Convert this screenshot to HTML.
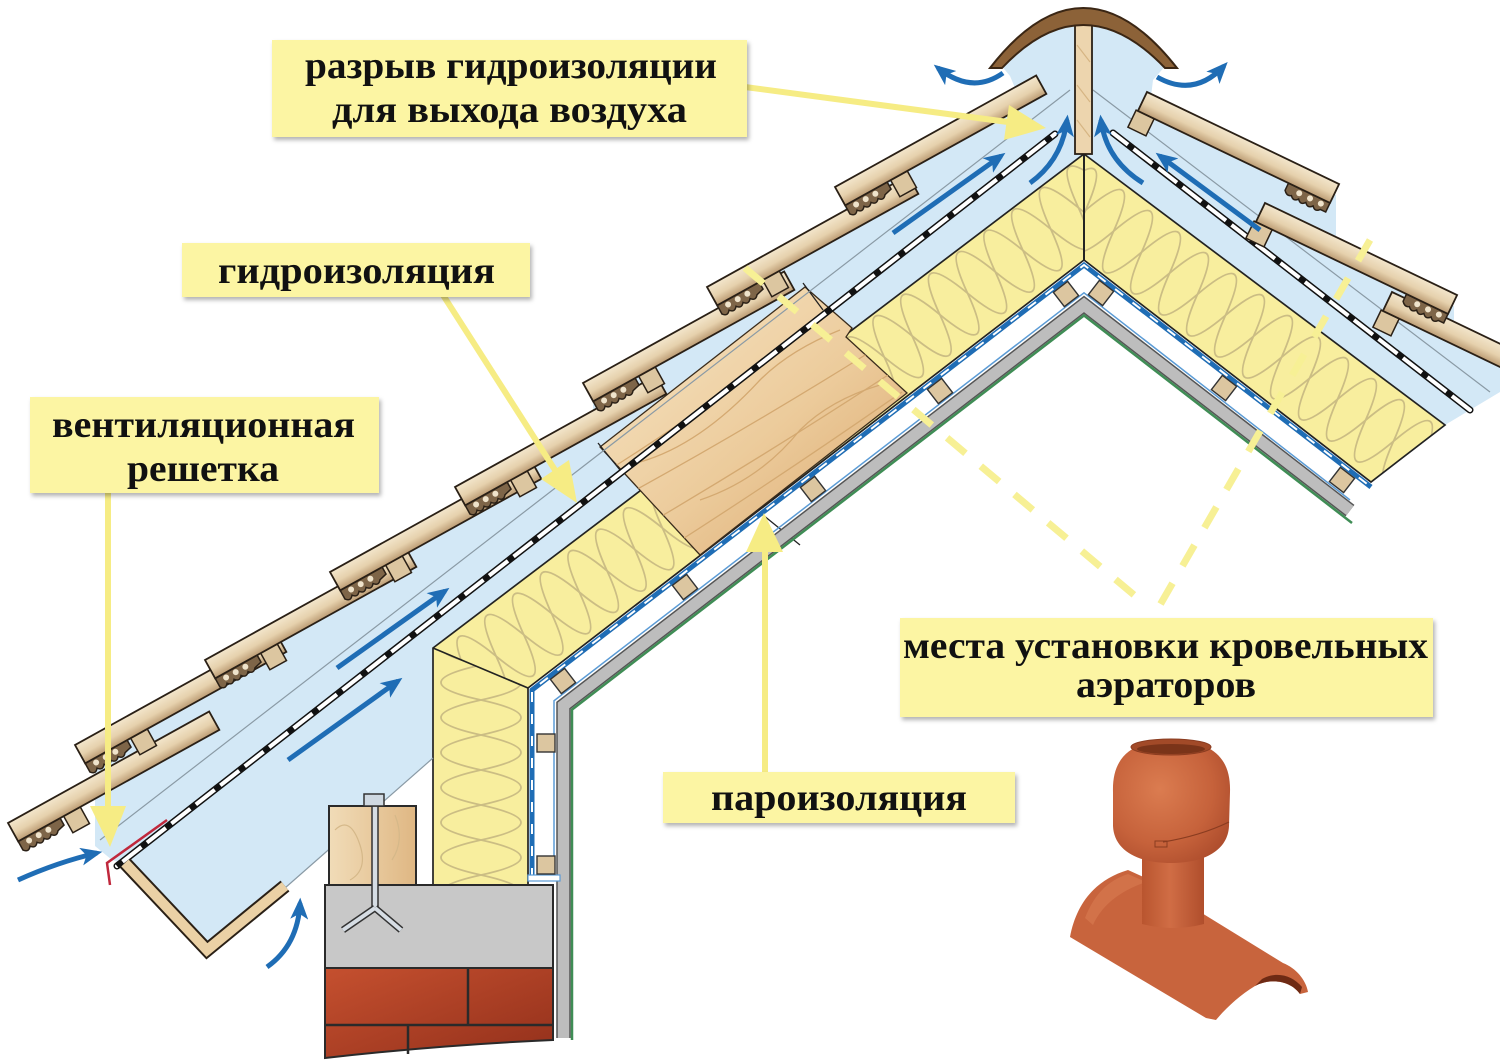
<!DOCTYPE html>
<html><head><meta charset="utf-8">
<style>html,body{margin:0;padding:0;background:#fff;}svg{display:block;}</style>
</head><body>
<svg width="1500" height="1061" viewBox="0 0 1500 1061" xmlns="http://www.w3.org/2000/svg">
<defs>
 <linearGradient id="gb" x1="0" y1="0" x2="0" y2="1">
  <stop offset="0" stop-color="#f3e6cc"/><stop offset="0.55" stop-color="#e6d1ad"/><stop offset="1" stop-color="#bc9c74"/>
 </linearGradient>
 <linearGradient id="wood" x1="0" y1="0" x2="1" y2="1">
  <stop offset="0" stop-color="#f8e7c8"/><stop offset="0.55" stop-color="#eccb9b"/><stop offset="1" stop-color="#d9a56b"/>
 </linearGradient>
 <linearGradient id="wood2" x1="0" y1="0" x2="1" y2="0">
  <stop offset="0" stop-color="#f1dcb8"/><stop offset="1" stop-color="#dfb783"/>
 </linearGradient>
 <linearGradient id="brick" x1="0" y1="0" x2="1" y2="1">
  <stop offset="0" stop-color="#c5502f"/><stop offset="1" stop-color="#93301b"/>
 </linearGradient>
 <radialGradient id="terra" cx="0.4" cy="0.4" r="0.75">
  <stop offset="0" stop-color="#db7c50"/><stop offset="0.6" stop-color="#c6623b"/><stop offset="1" stop-color="#a9492a"/>
 </radialGradient>
 <linearGradient id="neck" x1="0" y1="0" x2="1" y2="0">
  <stop offset="0" stop-color="#b9552f"/><stop offset="0.45" stop-color="#d06d45"/><stop offset="1" stop-color="#b04e2c"/>
 </linearGradient>
 <marker id="bh" viewBox="0 0 12 10" refX="9" refY="5" markerWidth="4.4" markerHeight="3.6" orient="auto" markerUnits="strokeWidth">
  <path d="M0,0 L12,5 L0,10 L3,5 Z" fill="#1f6db5"/>
 </marker>
 <filter id="sh" x="-5%" y="-10%" width="115%" height="140%">
  <feDropShadow dx="2" dy="3" stdDeviation="2" flood-color="#000" flood-opacity="0.3"/>
 </filter>
 <clipPath id="cL"><polygon points="433,648 1084,154 1084,260 528,688"/></clipPath>
 <clipPath id="cW"><polygon points="433,648 528,688 528,885 433,885"/></clipPath>
 <clipPath id="cR"><polygon points="1084,154 1445,425 1371,482 1084,260"/></clipPath>
 <clipPath id="cWood"><polygon points="600,447 805,287 852,328 846,337 907,393 700,555"/></clipPath>
 <g id="tl">
  <rect x="52" y="21" width="19" height="19" fill="#dcc6a0" stroke="#2a2016" stroke-width="1.5"/>
  <path d="M0,21 L0,31 Q4,36 8,31 Q12,36 16,31 Q20,36 24,31 Q28,36 32,31 Q36,36 40,31 L48,29 L48,21 Z" fill="#7e6548" stroke="#2a2016" stroke-width="1.5"/>
  <circle cx="10" cy="25.5" r="3" fill="#efe3cb"/><circle cx="21" cy="25.5" r="3" fill="#efe3cb"/><circle cx="32" cy="25.5" r="3" fill="#efe3cb"/>
  <rect x="0" y="0" width="230" height="21" fill="url(#gb)" stroke="#2a2016" stroke-width="1.8"/>
 </g>
 <g id="tr">
  <rect x="-2" y="21" width="20" height="19" fill="#dcc6a0" stroke="#2a2016" stroke-width="1.5"/>
  <path d="M167,21 L167,29 Q171,34 175,31 Q179,36 183,31 Q187,36 191,31 Q195,36 199,31 Q203,36 207,31 L213,31 L213,21 Z" fill="#7e6548" stroke="#2a2016" stroke-width="1.5"/>
  <circle cx="181" cy="25.5" r="3" fill="#efe3cb"/><circle cx="193" cy="25.5" r="3" fill="#efe3cb"/><circle cx="205" cy="25.5" r="3" fill="#efe3cb"/>
  <rect x="0" y="0" width="213" height="21" fill="url(#gb)" stroke="#2a2016" stroke-width="1.8"/>
 </g>
</defs>

<rect width="1500" height="1061" fill="#fff"/>

<!-- blue cavity regions -->
<polygon fill="#d3e8f6" points="95,846 95,746 215,679 215,666 340,597 340,578 465,509 465,493 593,422 593,389 717,320 717,293 845,222 845,193 1014,99 1020,100 1010,76 1000,64 1040,30 1084,18 1084,154 433,648 433,758 285,888 207,950 125,864 112,860"/>
<polygon fill="#d3e8f6" points="1084,18 1126,30 1167,64 1153,80 1150,105 1336,195 1336,249 1454,306 1454,334 1500,356 1500,392 1445,425 1084,154"/>

<!-- insulation -->
<polygon points="433,648 1084,154 1084,260 528,688 528,885 433,885" fill="#f8ee9e"/>
<polygon points="1084,154 1445,425 1371,482 1084,260" fill="#f8ee9e"/>
<g clip-path="url(#cL)" fill="none" stroke="#cbbd84" stroke-width="1.8">
 <g transform="translate(433,648) rotate(-37.6)">
  <path d="M-60,45 Q-42.5,-31 -25,45 T10,45 T45,45 T80,45 T115,45 T150,45 T185,45 T220,45 T255,45 T290,45 T325,45 T360,45 T395,45 T430,45 T465,45 T500,45 T535,45 T570,45 T605,45 T640,45 T675,45 T710,45 T745,45 T780,45 T815,45 T850,45"/>
  <path d="M-60,45 Q-42.5,121 -25,45 T10,45 T45,45 T80,45 T115,45 T150,45 T185,45 T220,45 T255,45 T290,45 T325,45 T360,45 T395,45 T430,45 T465,45 T500,45 T535,45 T570,45 T605,45 T640,45 T675,45 T710,45 T745,45 T780,45 T815,45 T850,45"/>
 </g>
</g>
<g clip-path="url(#cW)" fill="none" stroke="#cbbd84" stroke-width="1.8">
 <g transform="translate(528,630) rotate(90)">
  <path d="M0,47 Q17.5,-33 35,47 T70,47 T105,47 T140,47 T175,47 T210,47 T245,47 T280,47"/>
  <path d="M0,47 Q17.5,127 35,47 T70,47 T105,47 T140,47 T175,47 T210,47 T245,47 T280,47"/>
 </g>
</g>
<g clip-path="url(#cR)" fill="none" stroke="#cbbd84" stroke-width="1.8">
 <g transform="translate(1084,154) rotate(36.9)">
  <path d="M-70,44 Q-52.5,-32 -35,44 T0,44 T35,44 T70,44 T105,44 T140,44 T175,44 T210,44 T245,44 T280,44 T315,44 T350,44 T385,44 T420,44 T455,44 T490,44"/>
  <path d="M-70,44 Q-52.5,120 -35,44 T0,44 T35,44 T70,44 T105,44 T140,44 T175,44 T210,44 T245,44 T280,44 T315,44 T350,44 T385,44 T420,44 T455,44 T490,44"/>
 </g>
</g>
<g fill="none" stroke="#222" stroke-width="1.7">
 <polygon points="433,648 1084,154 1084,260 528,688 528,885 433,885"/>
 <polygon points="1084,154 1445,425 1371,482 1084,260"/>
 <line x1="433" y1="648" x2="528" y2="688"/>
</g>

<!-- wood rafter -->
<polygon points="600,447 805,287 852,328 846,337 907,393 700,555" fill="url(#wood)" stroke="#3a2c1c" stroke-width="1.3"/>
<g clip-path="url(#cWood)" fill="none" stroke="#d4a971" stroke-width="1.3">
 <path d="M612,468 Q720,400 830,312"/>
 <path d="M632,492 Q745,430 870,352"/>
 <path d="M655,520 Q770,452 888,375"/>
 <path d="M678,542 Q790,470 902,392"/>
 <path d="M640,462 Q700,445 760,380 Q790,350 840,330"/>
 <path d="M700,500 Q760,480 800,430 Q830,400 880,385"/>
</g>
<g stroke="#222" stroke-width="1.3">
 <line x1="598" y1="443" x2="620" y2="470"/>
 <line x1="803" y1="283" x2="823" y2="310"/>
 <line x1="763" y1="515" x2="800" y2="545"/>
</g>

<!-- interior layers -->
<polyline points="563.5,1038 563.5,705.4 1084,304.8 1350,510.6" fill="none" stroke="#555" stroke-width="14.5"/>
<polyline points="563.5,1038 563.5,705.4 1084,304.8 1350,510.6" fill="none" stroke="#bdbdbd" stroke-width="11.5"/>
<polyline points="572,1040 572,709.6 1084,315.5 1352,523" fill="none" stroke="#3f8d55" stroke-width="2.5"/>
<polyline points="554,878 554,700.8 1084,292.8 1350,500" fill="none" stroke="#5b9bd5" stroke-width="1.5"/>
<polyline points="532,878 532,690 1084,265 1371,487" fill="none" stroke="#1f6db5" stroke-width="5"/>
<polyline points="532,878 532,690 1084,265 1371,487" fill="none" stroke="#fff" stroke-width="2" stroke-dasharray="10 12"/>
<rect x="528" y="875" width="32" height="6" fill="#fff" stroke="#5b9bd5" stroke-width="1.2"/>
<g fill="#dcc6a0" stroke="#333" stroke-width="1.4">
 <rect x="-9" y="-9" width="18" height="18" transform="translate(563,681) rotate(-37.6)"/>
 <rect x="-9" y="-9" width="18" height="18" transform="translate(685,587) rotate(-37.6)"/>
 <rect x="-9" y="-9" width="18" height="18" transform="translate(813,489) rotate(-37.6)"/>
 <rect x="-9" y="-9" width="18" height="18" transform="translate(940,391) rotate(-37.6)"/>
 <rect x="-9" y="-9" width="18" height="18" transform="translate(1066,294) rotate(-37.6)"/>
 <rect x="-9" y="-9" width="18" height="18" transform="translate(1101,293) rotate(37.7)"/>
 <rect x="-9" y="-9" width="18" height="18" transform="translate(1224,388) rotate(37.7)"/>
 <rect x="-9" y="-9" width="18" height="18" transform="translate(1342,480) rotate(37.7)"/>
 <rect x="537" y="734" width="18" height="18"/>
 <rect x="537" y="856" width="18" height="18"/>
</g>

<!-- thin lines & membranes -->
<g stroke="#8a9aa5" stroke-width="1.2" fill="none">
 <line x1="100" y1="840" x2="1070" y2="90"/>
 <line x1="1093" y1="90" x2="1490" y2="392"/>
 <line x1="285" y1="888" x2="433" y2="758"/>
</g>
<g fill="none">
 <line x1="117" y1="866" x2="1055" y2="134" stroke="#111" stroke-width="7" stroke-linecap="round"/>
 <line x1="117" y1="866" x2="1055" y2="134" stroke="#fff" stroke-width="4" stroke-linecap="round"/>
 <line x1="117" y1="866" x2="1055" y2="134" stroke="#111" stroke-width="4.5" stroke-dasharray="7 24"/>
 <line x1="1113" y1="133" x2="1470" y2="410" stroke="#111" stroke-width="7" stroke-linecap="round"/>
 <line x1="1113" y1="133" x2="1470" y2="410" stroke="#fff" stroke-width="4" stroke-linecap="round"/>
 <line x1="1113" y1="133" x2="1470" y2="410" stroke="#111" stroke-width="4.5" stroke-dasharray="7 24" stroke-dashoffset="12"/>
</g>

<!-- tiles -->
<use href="#tl" transform="translate(8,823) rotate(-29)"/>
<use href="#tl" transform="translate(75,745) rotate(-29)"/>
<use href="#tl" transform="translate(205,660) rotate(-29)"/>
<use href="#tl" transform="translate(330,572) rotate(-29)"/>
<use href="#tl" transform="translate(455,487) rotate(-29)"/>
<use href="#tl" transform="translate(583,383) rotate(-29)"/>
<use href="#tl" transform="translate(707,287) rotate(-29)"/>
<use href="#tl" transform="translate(835,187) rotate(-29)"/>
<use href="#tr" transform="translate(1392,292) rotate(25.6)"/>
<use href="#tr" transform="translate(1265,203) rotate(25.6)"/>
<use href="#tr" transform="translate(1147,92) rotate(25.6)"/>

<!-- ridge -->
<rect x="1075" y="23" width="17" height="131" fill="#edd5ae" stroke="#2a2016" stroke-width="1.8"/>
<g stroke="#d6b583" stroke-width="1.2"><line x1="1077" y1="45" x2="1090" y2="62"/><line x1="1077" y1="85" x2="1090" y2="102"/><line x1="1077" y1="120" x2="1090" y2="137"/></g>
<line x1="1084" y1="154" x2="1084" y2="260" stroke="#222" stroke-width="1.7"/>
<path d="M990,68 Q1083,-52 1177,68 L1165,68 Q1083,-18 1002,68 Z" fill="#8c6238" stroke="#3a2614" stroke-width="2"/>

<!-- blue arrows -->
<g fill="none" stroke="#1f6db5" stroke-width="5" marker-end="url(#bh)">
 <path d="M288,760 L398,681"/>
 <path d="M337,668 L445,591"/>
 <path d="M893,233 L1001,156"/>
 <path d="M1030,183 Q1062,160 1067,120"/>
 <path d="M1260,230 L1160,156"/>
 <path d="M1143,183 Q1106,160 1101,120"/>
 <path d="M1003,73 Q972,95 938,68"/>
 <path d="M1157,77 Q1194,98 1224,66"/>
 <path d="M18,880 Q58,862 97,853"/>
 <path d="M267,967 Q298,945 300,903"/>
</g>

<!-- eave -->
<polyline points="125,863 207,950 285,886" fill="none" stroke="#2a2016" stroke-width="14"/>
<polyline points="125,863 207,950 285,886" fill="none" stroke="#ebd1a5" stroke-width="10"/>
<polyline points="167,820 107,863 110,885" fill="none" stroke="#c0283c" stroke-width="2.5"/>

<!-- wall -->
<rect x="329" y="806" width="87" height="79" fill="url(#wood2)" stroke="#2a2a2a" stroke-width="2"/>
<g fill="none" stroke="#d5b889" stroke-width="1.2"><path d="M335,830 Q350,815 360,845 Q368,870 350,880"/><path d="M395,815 Q405,840 392,860"/></g>
<rect x="325" y="885" width="228" height="83" fill="#c8c8c8" stroke="#2a2a2a" stroke-width="2"/>
<rect x="372" y="806" width="6" height="104" fill="#d6dde4" stroke="#333" stroke-width="1.5"/>
<rect x="364" y="794" width="20" height="12" fill="#cfd9e2" stroke="#333" stroke-width="1.5"/>
<path d="M375,908 L343,930 M375,908 L401,930" fill="none" stroke="#333" stroke-width="7"/>
<path d="M375,908 L343,930 M375,908 L401,930" fill="none" stroke="#d6dde4" stroke-width="4"/>
<path d="M325,968 L553,968 L553,1040 Q440,1045 325,1058 Z" fill="url(#brick)" stroke="#2a2a2a" stroke-width="2"/>
<g stroke="#2a2a2a" stroke-width="2.5"><line x1="325" y1="1025" x2="553" y2="1025"/><line x1="468" y1="968" x2="468" y2="1025"/><line x1="408" y1="1025" x2="408" y2="1054"/></g>

<!-- yellow dashed lines -->
<g stroke="#f7f095" stroke-width="7" fill="none" stroke-dasharray="24 20">
 <line x1="745" y1="268" x2="1140" y2="600"/>
 <line x1="1370" y1="240" x2="1160" y2="605"/>
</g>

<!-- connectors -->
<g stroke="#f6ec84" stroke-width="6" fill="none">
 <line x1="745" y1="87" x2="1008" y2="122"/>
 <line x1="443" y1="295" x2="555" y2="470"/>
 <line x1="108" y1="490" x2="108" y2="808"/>
 <line x1="765" y1="775" x2="765" y2="550"/>
</g>
<g fill="#f6ec84">
 <polygon points="1046,128 1009,105 1004,140"/>
 <polygon points="577,503 541,479 569,460"/>
 <polygon points="90,806 126,806 110,847"/>
 <polygon points="746,552 783,552 764,513"/>
</g>

<!-- labels -->
<g fill="#fcf5a3" filter="url(#sh)">
 <rect x="272" y="40" width="475" height="97"/>
 <rect x="182" y="243" width="348" height="54"/>
 <rect x="30" y="397" width="349" height="96"/>
 <rect x="900" y="618" width="533" height="99"/>
 <rect x="663" y="772" width="352" height="51"/>
</g>
<g font-family="'Liberation Serif','DejaVu Serif',serif" font-weight="bold" font-size="38" fill="#111">
 <text x="305" y="78" textLength="412" lengthAdjust="spacingAndGlyphs">разрыв гидроизоляции</text>
 <text x="332" y="122" textLength="355" lengthAdjust="spacingAndGlyphs">для выхода воздуха</text>
 <text x="218" y="283" textLength="277" lengthAdjust="spacingAndGlyphs">гидроизоляция</text>
 <text x="52" y="437" textLength="303" lengthAdjust="spacingAndGlyphs">вентиляционная</text>
 <text x="127" y="481" textLength="152" lengthAdjust="spacingAndGlyphs">решетка</text>
 <text x="903" y="658" textLength="525" lengthAdjust="spacingAndGlyphs">места установки кровельных</text>
 <text x="1076" y="697" textLength="180" lengthAdjust="spacingAndGlyphs">аэраторов</text>
 <text x="711" y="810" textLength="256" lengthAdjust="spacingAndGlyphs">пароизоляция</text>
</g>

<!-- aerator -->
<path d="M1070,937 C1076,905 1094,880 1128,870 L1150,880 L1205,915 L1283,963 C1296,968 1306,980 1308,992 L1300,994 C1290,980 1270,978 1255,986 C1240,995 1226,1008 1216,1020 L1206,1018 Z" fill="#c8643d"/>
<path d="M1300,994 C1290,980 1270,978 1255,986 L1262,979 C1276,971 1292,975 1302,987 Z" fill="#6e2a14"/>
<path d="M1085,918 C1095,892 1110,880 1128,874 L1146,882 C1120,891 1102,905 1093,925 Z" fill="#d97b52" opacity="0.6"/>
<path d="M1142,850 L1142,924 Q1173,932 1204,924 L1204,850 Z" fill="url(#neck)"/>
<path d="M1113,792 C1112,760 1128,741 1171,740 C1215,741 1231,760 1230,792 L1229,826 C1228,850 1205,863 1171,863 C1137,863 1114,850 1113,826 Z" fill="url(#terra)"/>
<ellipse cx="1171" cy="747" rx="40" ry="8" fill="#a24a28" stroke="#8a3c20" stroke-width="1"/>
<ellipse cx="1171" cy="749" rx="34" ry="5" fill="#7a3419"/>
<path d="M1163,842 Q1200,836 1229,822" fill="none" stroke="#8a3c20" stroke-width="1.2"/>
<rect x="1155" y="841" width="12" height="6" fill="none" stroke="#8a3c20" stroke-width="1"/>
</svg>
</body></html>
